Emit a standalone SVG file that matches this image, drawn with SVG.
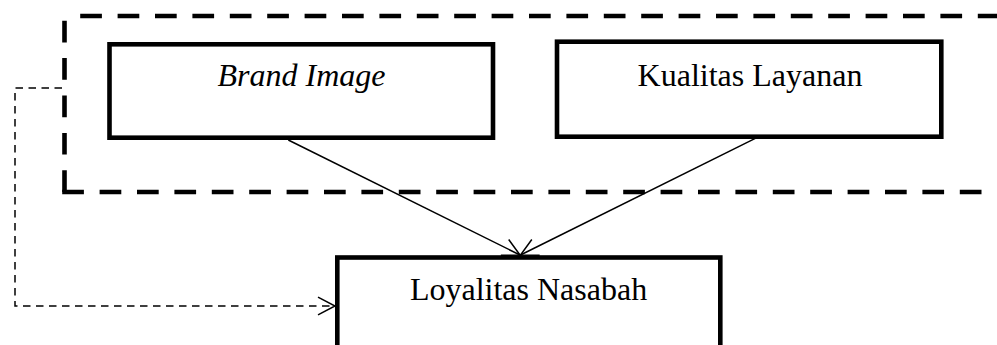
<svg xmlns="http://www.w3.org/2000/svg" width="997" height="345" viewBox="0 0 997 345">
  <style>
    .box { fill: #ffffff; stroke: #000000; stroke-width: 4.6; }
    .outer { fill: none; stroke: #000000; stroke-width: 4.6; stroke-dasharray: 21.7 15.7; }
    .lbl { font-family: "Liberation Serif", "Times New Roman", serif; font-size: 32px; fill: #000000; text-anchor: middle; }
    .conn { fill: none; stroke: #000000; stroke-width: 1.5; }
    .dash { stroke-dasharray: 7.5 5.5; }
  </style>
  <defs>
    <marker id="arrow" markerUnits="userSpaceOnUse" markerWidth="24" markerHeight="24" viewBox="-20 -12 24 24" refX="0" refY="0" orient="auto" overflow="visible">
      <path d="M -17,-8.8 L 0,0 L -17,8.8" fill="none" stroke="#000000" stroke-width="1.5"/>
    </marker>
  </defs>
  <rect width="997" height="345" fill="#ffffff"/>

  <g id="group-frame">
    <path class="outer" d="M 64.5,192 V 16"/>
    <path class="outer" d="M 64.5,16 H 1010" stroke-dashoffset="21.7"/>
    <path class="outer" d="M 62.2,192 H 1010"/>
  </g>

  <g id="brand-image">
    <rect class="box" x="109.5" y="44.3" width="383.5" height="93.4"/>
    <text class="lbl" x="301.5" y="86" font-style="italic">Brand Image</text>
  </g>

  <g id="kualitas-layanan">
    <rect class="box" x="557" y="41.7" width="384.3" height="95"/>
    <text class="lbl" x="750" y="85.5">Kualitas Layanan</text>
  </g>

  <g id="loyalitas-nasabah">
    <rect class="box" x="337.3" y="257.5" width="383" height="130"/>
    <text class="lbl" x="528.5" y="300">Loyalitas Nasabah</text>
  </g>

  <g id="connectors">
    <path class="conn" d="M 288.3,140 L 520,255" marker-end="url(#arrow)"/>
    <path class="conn" d="M 755.3,138.3 L 520.5,255" marker-end="url(#arrow)"/>
    <path class="conn dash" d="M 62,88 H 15 V 306 H 335" marker-end="url(#arrow)"/>
  </g>
</svg>
